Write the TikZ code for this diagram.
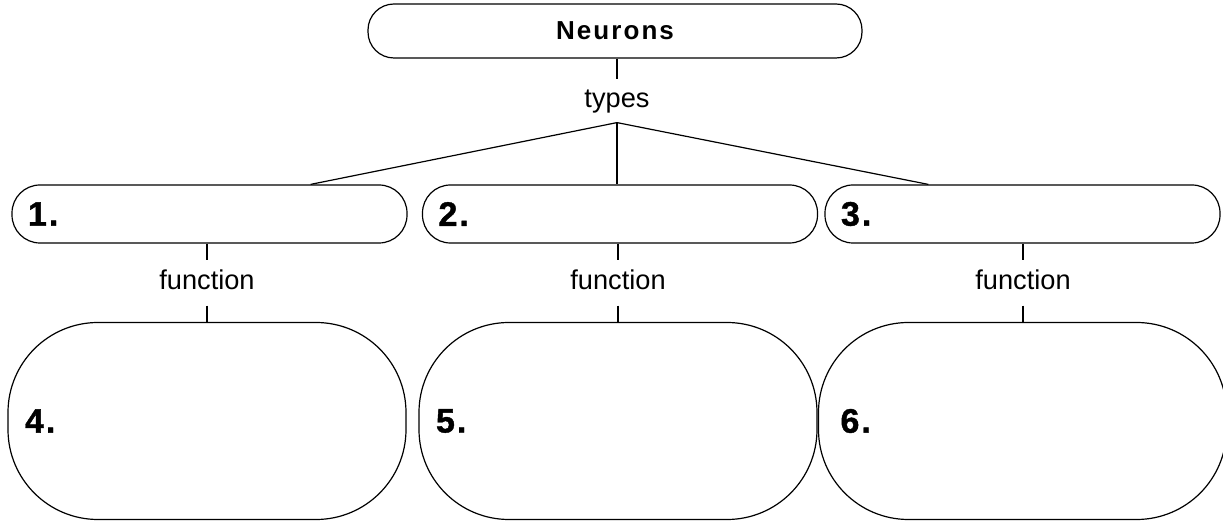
\documentclass[tikz,border=0pt]{standalone}
\usepackage{fontspec}
\setmainfont{Liberation Sans}
\newfontfamily\heavyfont[FakeBold=1.2, LetterSpace=6]{Liberation Sans Bold}
\newfontfamily\titlefont[LetterSpace=8]{Liberation Sans Bold}
\usepackage{tikz}
\usetikzlibrary{positioning,calc}

\tikzset{
    topbox/.style={draw, rounded corners=13pt, minimum width=247pt, minimum height=27pt, inner sep=0pt,
        font=\titlefont\fontsize{13}{14}\selectfont},
    typebox/.style={draw, rounded corners=14pt, minimum width=197.5pt, minimum height=29pt,
        inner xsep=8pt, inner ysep=0pt, text width=181.5pt, align=left,
        font=\heavyfont\fontsize{17}{18}\selectfont},
    funcbox/.style={draw, rounded corners=45pt, minimum width=199pt, minimum height=98.5pt,
        inner xsep=8.5pt, inner ysep=0pt, text width=182pt, align=left,
        font=\heavyfont\fontsize{17}{18}\selectfont},
    linkword/.style={inner xsep=2pt, inner ysep=4.5pt, text height=10pt, text depth=3pt,
        font=\fontsize{13.6}{14}\selectfont},
}

\begin{document}
\begin{tikzpicture}[x=0.5pt, y=-0.5pt, line width=0.6pt]
    \useasboundingbox (0,0) rectangle (1223,523);

    % Neurons
    \node[topbox] (neurons) at (615,31) {Neurons};
    \node[linkword, anchor=base, inner ysep=4pt] (types) at (617,108) {types};
    \draw (neurons.south -| types) -- (types.north);

    % Types
    \node[typebox] (type1) at (209.5,214) {1.};
    \node[typebox] (type2) at (620,214) {2.};
    \node[typebox] (type3) at (1022.5,214) {3.};
    \draw ([xshift=-48.5pt]type1.north east) -- (types.south);
    \draw (types.south) -- (types.south |- type2.north);
    \draw (types.south) -- ([xshift=52pt]type3.north west);

    % Functions
    \node[funcbox] (func4) at (207,421) {4.};
    \node[funcbox, inner xsep=8pt] (func5) at (618,421) {5.};
    \node[funcbox, inner xsep=11pt] (func6) at (1022.5,421) {6.};

    \foreach \t/\f/\x in {type1/func4/207, type2/func5/618, type3/func6/1023} {
        \node[linkword, anchor=base] (fn\f) at (\x,290) {function};
        \draw (\t.south -| fn\f) -- (fn\f.north);
        \draw (fn\f.south) -- (\f.north -| fn\f);
    }
\end{tikzpicture}
\end{document}
